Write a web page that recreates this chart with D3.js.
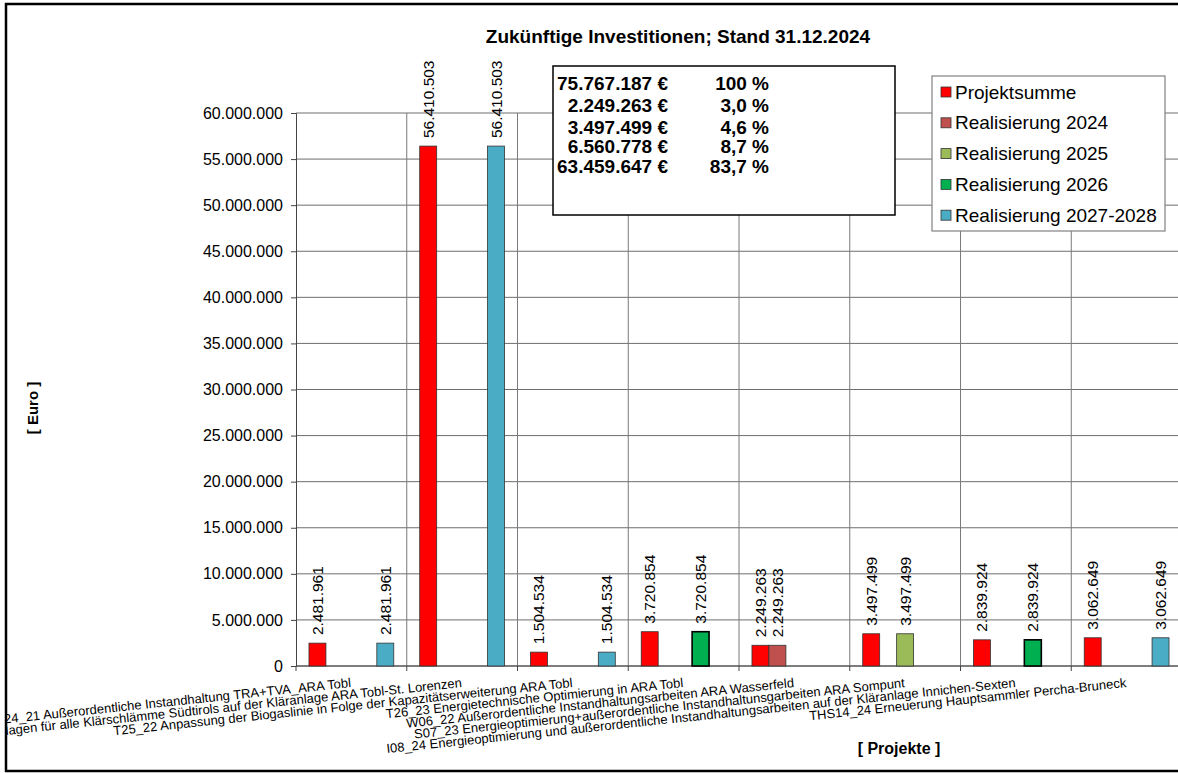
<!DOCTYPE html>
<html>
<head>
<meta charset="utf-8">
<script src="https://cdn.jsdelivr.net/npm/d3@7"></script>
<style>
  body { margin: 0; background: #fff; }
  text { font-family: "Liberation Sans", Arial, sans-serif; fill: #000; }
</style>
</head>
<body>
<script>
/* data */
const categories = [
  "T24_21 Außerordentliche Instandhaltung TRA+TVA_ARA Tobl",
  "T23_22 Trocknungsanlagen für alle Klärschlämme Südtirols auf der Kläranlage ARA Tobl-St. Lorenzen",
  "T25_22 Anpassung der Biogaslinie in Folge der Kapazitätserweiterung ARA Tobl",
  "T26_23 Energietechnische Optimierung in ARA Tobl",
  "W06_22 Außerordentliche Instandhaltungsarbeiten ARA Wasserfeld",
  "S07_23 Energieoptimierung+außerordentliche Instandhaltunsgarbeiten ARA Sompunt",
  "I08_24 Energieoptimierung und außerordentliche Instandhaltungsarbeiten auf der Kläranlage Innichen-Sexten",
  "THS14_24 Erneuerung Hauptsammler Percha-Bruneck"
]
const seriesNames = ["Projektsumme", "Realisierung 2024", "Realisierung 2025", "Realisierung 2026", "Realisierung 2027-2028"]
const seriesColors = ["#ff0000", "#c0504d", "#9bbb59", "#00b050", "#4bacc6"]

const projektsumme = [2481961, 56410503, 1504534, 3720854, 2249263, 3497499, 2839924, 3062649]
const real2024     = [0, 0, 0, 0, 2249263, 0, 0, 0]
const real2025     = [0, 0, 0, 0, 0, 3497499, 0, 0]
const real2026     = [0, 0, 0, 3720854, 0, 0, 2839924, 0]
const real2027_28  = [2481961, 56410503, 1504534, 0, 0, 0, 0, 3062649]
const seriesValues = [projektsumme, real2024, real2025, real2026, real2027_28]

const yTicks = [0, 5000000, 10000000, 15000000, 20000000, 25000000, 30000000,
                35000000, 40000000, 45000000, 50000000, 55000000, 60000000]

const summaryAmounts = ["75.767.187 €", "2.249.263 €", "3.497.499 €", "6.560.778 €", "63.459.647 €"]
const summaryPercents = ["100 %", "3,0 %", "4,6 %", "8,7 %", "83,7 %"]

/* canvas */
const width = 1178, height = 773
const plot = { left: 296, right: 1182, top: 113, bottom: 666 }

const de = d3.formatLocale({ decimal: ",", thousands: ".", grouping: [3], currency: ["", " €"] })
const fmt = de.format(",d")

const svg = d3.select("body").append("svg")
  .attr("width", width).attr("height", height)

// the chart frame cuts off what runs past it (long category labels on the left)
svg.append("defs").append("clipPath").attr("id", "frameClip")
  .append("rect").attr("x", 7).attr("y", 5).attr("width", width - 7).attr("height", 765)

const root = svg.append("g").attr("clip-path", "url(#frameClip)")

/* scales */
const xScale = d3.scaleBand().domain(d3.range(categories.length))
  .range([plot.left, plot.right]).paddingInner(0).paddingOuter(0)
const xInner = d3.scaleBand().domain(d3.range(seriesNames.length))
  .range([0, xScale.bandwidth()]).paddingInner(0).paddingOuter(0.765)
const yScale = d3.scaleLinear().domain([0, 60000000]).range([plot.bottom, plot.top])

/* grid */
root.append("g").selectAll("line").data(yTicks).enter().append("line")
  .attr("x1", plot.left).attr("x2", plot.right)
  .attr("y1", d => yScale(d)).attr("y2", d => yScale(d))
  .attr("stroke", "#6e6e6e").attr("stroke-width", 1)

root.append("g").selectAll("line").data(d3.range(1, categories.length)).enter().append("line")
  .attr("x1", d => xScale(d)).attr("x2", d => xScale(d))
  .attr("y1", plot.top).attr("y2", plot.bottom)
  .attr("stroke", "#7a7a7a").attr("stroke-width", 1)

/* y axis */
const yAxis = root.append("g").attr("transform", "translate(" + plot.left + ",0)")
  .call(d3.axisLeft(yScale).tickValues(yTicks).tickFormat(fmt).tickSize(5).tickPadding(8))
yAxis.select(".domain").attr("stroke", "#444")
yAxis.selectAll(".tick line").attr("stroke", "#444")
yAxis.selectAll(".tick text").attr("font-size", 16)
  .style("font-family", '"Liberation Sans", Arial, sans-serif').attr("fill", "#000")

/* x axis line + ticks at category boundaries */
root.append("line").attr("x1", plot.left).attr("x2", plot.right)
  .attr("y1", plot.bottom).attr("y2", plot.bottom).attr("stroke", "#444")
root.append("g").selectAll("line").data(d3.range(0, categories.length)).enter().append("line")
  .attr("x1", d => xScale(d)).attr("x2", d => xScale(d))
  .attr("y1", plot.bottom).attr("y2", plot.bottom + 5).attr("stroke", "#444")

/* bars */
const barData = []
seriesValues.forEach((vals, s) => vals.forEach((v, i) => { if (v > 0) barData.push({ s, i, v }) }))

root.append("g").selectAll("rect").data(barData).enter().append("rect")
  .attr("x", d => xScale(d.i) + xInner(d.s))
  .attr("y", d => yScale(d.v))
  .attr("width", xInner.bandwidth())
  .attr("height", d => yScale(0) - yScale(d.v))
  .attr("fill", d => seriesColors[d.s])
  .attr("stroke", d => d.s === 3 ? "#000" : "#333")
  .attr("stroke-width", d => d.s === 3 ? 1.6 : 0.8)

/* value labels */
root.append("g").selectAll("text").data(barData).enter().append("text")
  .attr("transform", d => "translate(" + (xScale(d.i) + xInner(d.s) + xInner.bandwidth() / 2) + "," + (yScale(d.v) - 8) + ") rotate(-90)")
  .attr("text-anchor", "start").attr("dominant-baseline", "central")
  .attr("font-size", 15.5)
  .text(d => fmt(d.v))

/* category labels */
root.append("g").selectAll("text").data(categories).enter().append("text")
  .attr("transform", (d, i) => "translate(" + (xScale(i) + xScale.bandwidth() / 2) + "," + 687 + ") rotate(-6)")
  .attr("text-anchor", "end").attr("font-size", 13)
  .text(d => d)

/* axis titles */
root.append("text").attr("transform", "translate(38,408) rotate(-90)")
  .attr("text-anchor", "middle").attr("font-size", 15).attr("font-weight", "bold")
  .text("[ Euro ]")
root.append("text").attr("x", 899).attr("y", 754)
  .attr("text-anchor", "middle").attr("font-size", 16).attr("font-weight", "bold")
  .text("[ Projekte ]")

/* title */
root.append("text").attr("x", 678).attr("y", 43)
  .attr("text-anchor", "middle").attr("font-size", 19).attr("font-weight", "bold")
  .text("Zukünftige Investitionen; Stand 31.12.2024")

/* summary box */
const box = root.append("g")
box.append("rect").attr("x", 553).attr("y", 66).attr("width", 342).attr("height", 149)
  .attr("fill", "#fff").attr("stroke", "#000").attr("stroke-width", 1.5)
const rowY = [90, 112, 134, 153, 173]
box.selectAll("text.amt").data(summaryAmounts).enter().append("text").attr("class", "amt")
  .attr("x", 668).attr("y", (d, i) => rowY[i]).attr("text-anchor", "end")
  .attr("font-size", 19).attr("font-weight", "bold").text(d => d)
box.selectAll("text.pct").data(summaryPercents).enter().append("text").attr("class", "pct")
  .attr("x", 769).attr("y", (d, i) => rowY[i]).attr("text-anchor", "end")
  .attr("font-size", 19).attr("font-weight", "bold").text(d => d)

/* legend */
const legend = root.append("g")
legend.append("rect").attr("x", 932).attr("y", 76).attr("width", 233).attr("height", 155)
  .attr("fill", "#fff").attr("stroke", "#808080").attr("stroke-width", 1.2)
const legendRows = legend.selectAll("g.row").data(seriesNames).enter().append("g")
  .attr("transform", (d, i) => "translate(941," + (92 + i * 30.8) + ")")
legendRows.append("rect").attr("x", 0).attr("y", -5).attr("width", 10).attr("height", 10)
  .attr("fill", (d, i) => seriesColors[i]).attr("stroke", "#333").attr("stroke-width", 0.8)
legendRows.append("text").attr("x", 14).attr("y", 0).attr("dominant-baseline", "central")
  .attr("font-size", 19).text(d => d)

/* outer frame */
svg.append("rect").attr("x", 6).attr("y", 4).attr("width", width + 10).attr("height", 767)
  .attr("fill", "none").attr("stroke", "#000").attr("stroke-width", 2.5)
</script>
</body>
</html>
